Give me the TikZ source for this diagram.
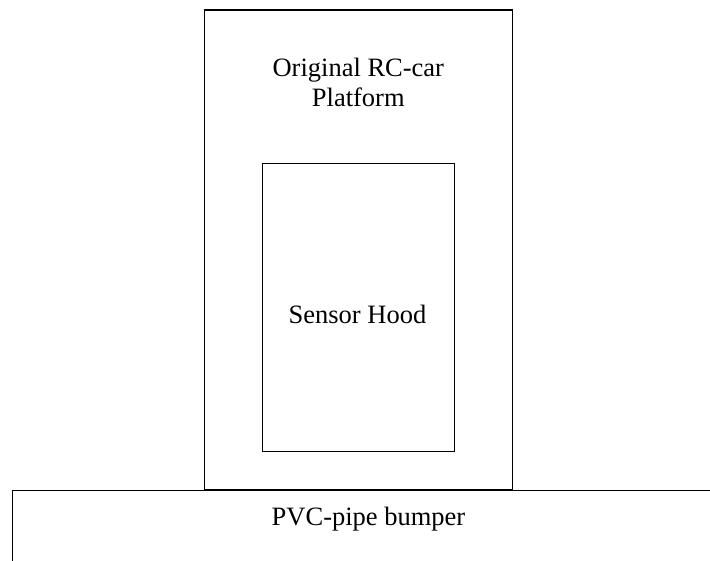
\documentclass[tikz,border=0pt]{standalone}
\usepackage{fontspec}
\setmainfont{Liberation Serif}
\begin{document}
\begin{tikzpicture}[x=1pt,y=-1pt,
  box/.style={draw=black, line width=1.4pt, rectangle, inner sep=0pt, fill=none},
  lbl/.style={anchor=base, inner sep=0pt, font=\fontsize{26.5}{30}\selectfont}]
\useasboundingbox (0,0) rectangle (710,560);
\node[box, minimum width=307.8pt, minimum height=480pt] (platform) at (358.4,250) {};
\node[box, minimum width=192pt, minimum height=288.4pt] (hood) at (358.3,307.5) {};
\node[box, minimum width=712.7pt, minimum height=110pt] (bumper) at (368.65,545.5) {};
\node[lbl] (t1) at (358.3,76) {Original RC-car};
\node[lbl] (t2) at (358.3,106) {Platform};
\node[lbl] (t3) at (357.5,323.3) {Sensor Hood};
\node[lbl] (t4) at (368.5,525) {PVC-pipe bumper};
\end{tikzpicture}
\end{document}
